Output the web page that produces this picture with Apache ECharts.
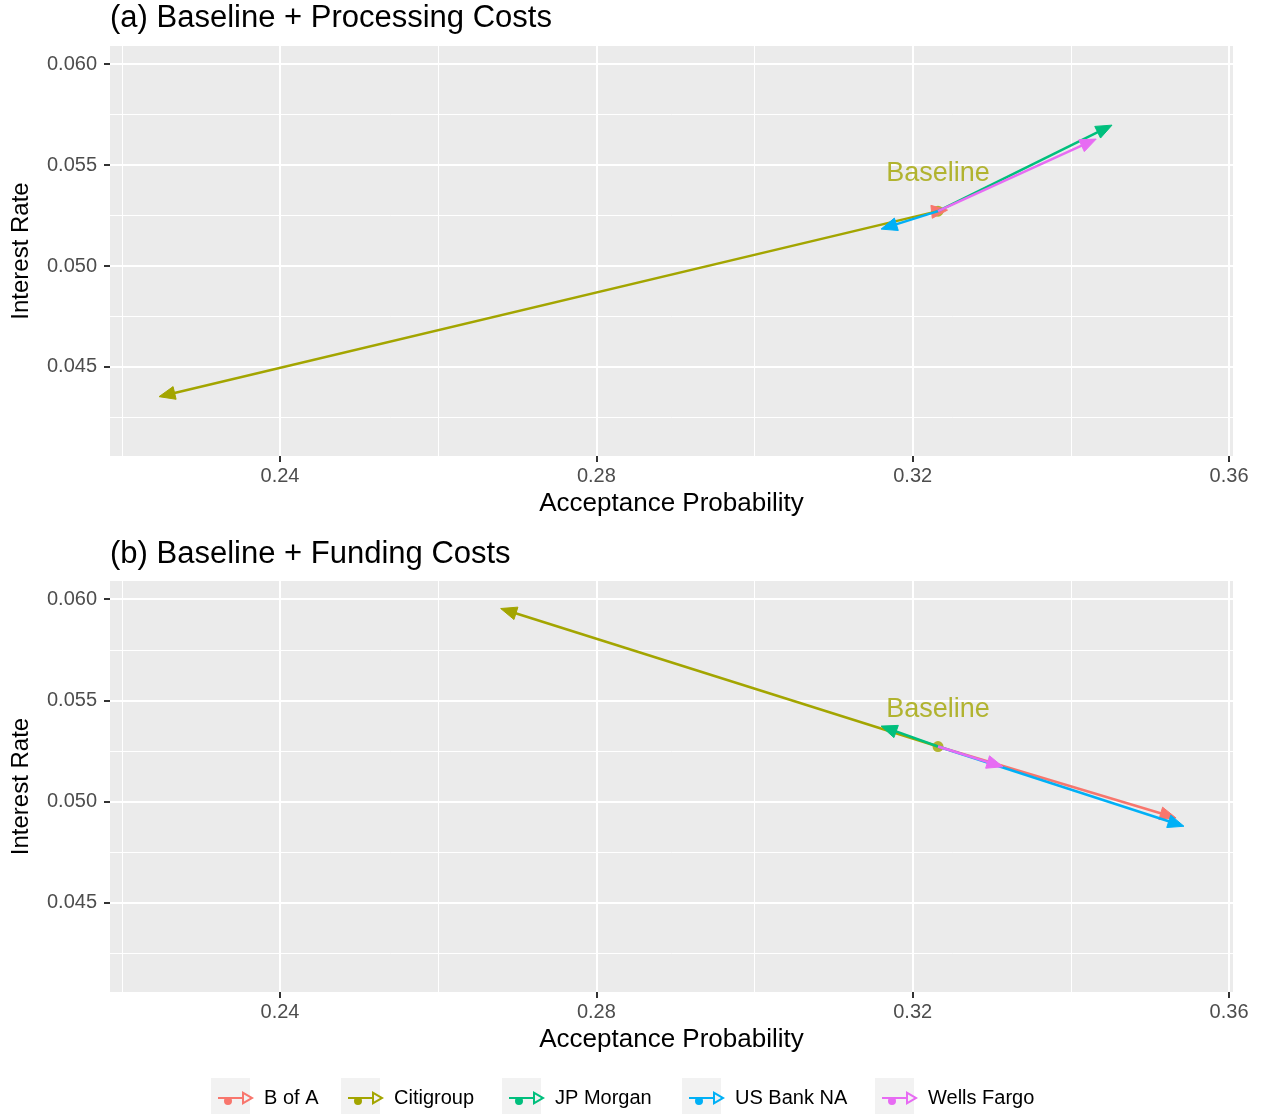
<!DOCTYPE html>
<html>
<head>
<meta charset="utf-8">
<script src="https://cdn.jsdelivr.net/npm/echarts@6/dist/echarts.min.js"></script>
<style>html,body{margin:0;padding:0;background:#fff;}#c{width:1262px;height:1114px;}</style>
</head>
<body>
<div id="c"></div>
<script>
// ---- data ----
const firms = ['B of A', 'Citigroup', 'JP Morgan', 'US Bank NA', 'Wells Fargo'];
const colors = ['#F8766D', '#A3A500', '#00BF7D', '#00B0F6', '#E76BF3'];
const baselineX = 0.3232;
const baselineY = 0.05272;
const baselineLabelY = 0.05457;
// (a) processing costs: arrow end points
const procX = [0.3244, 0.2247, 0.3452, 0.3160, 0.3432];
const procY = [0.05277, 0.04353, 0.05698, 0.05183, 0.05629];
// (b) funding costs: arrow end points
const fundX = [0.3533, 0.2679, 0.3160, 0.3543, 0.3314];
const fundY = [0.04919, 0.05954, 0.05373, 0.04878, 0.05172];
// ticks
const xTicks = [0.24, 0.28, 0.32, 0.36];
const xMinor = [0.22, 0.26, 0.30, 0.34];
const yTicks = [0.045, 0.050, 0.055, 0.060];
const yMinor = [0.0425, 0.0475, 0.0525, 0.0575];
const titles = ['(a) Baseline + Processing Costs', '(b) Baseline + Funding Costs'];

const FONT = 'Liberation Sans';
const X_MIN = 0.2185, X_MAX = 0.3605, Y_MIN = 0.04059, Y_MAX = 0.0609;

const grids = [
  {left: 110, top: 46, width: 1123, height: 410},
  {left: 110, top: 581, width: 1123, height: 411}
];

function mainX(g) {
  return {
    type: 'value', gridIndex: g, min: X_MIN, max: X_MAX,
    name: 'Acceptance Probability', nameLocation: 'middle', nameGap: 35,
    nameTextStyle: {fontSize: 26, color: '#000', fontFamily: FONT},
    axisLine: {show: false},
    axisTick: {show: true, length: 6, lineStyle: {color: '#333', width: 2}, customValues: xTicks},
    axisLabel: {customValues: xTicks, formatter: v => v.toFixed(2), color: '#4D4D4D', fontSize: 20, margin: 10, fontFamily: FONT},
    splitLine: {show: true, lineStyle: {color: '#fff', width: 2}}
  };
}
function minorX(g) {
  return {
    type: 'value', gridIndex: g, min: X_MIN, max: X_MAX, position: 'bottom',
    axisLine: {show: false}, axisLabel: {show: false},
    axisTick: {show: false, customValues: xMinor},
    splitLine: {show: true, lineStyle: {color: '#fff', width: 1}}
  };
}
function mainY(g) {
  return {
    type: 'value', gridIndex: g, min: Y_MIN, max: Y_MAX,
    name: 'Interest Rate', nameLocation: 'middle', nameGap: 77,
    nameTextStyle: {fontSize: 24, color: '#000', fontFamily: FONT},
    axisLine: {show: false},
    axisTick: {show: true, length: 6, lineStyle: {color: '#333', width: 2}, customValues: yTicks},
    axisLabel: {customValues: yTicks, formatter: v => v.toFixed(3), color: '#4D4D4D', fontSize: 20, margin: 13, fontFamily: FONT},
    splitLine: {show: true, lineStyle: {color: '#fff', width: 2}}
  };
}
function minorY(g) {
  return {
    type: 'value', gridIndex: g, min: Y_MIN, max: Y_MAX, position: 'left',
    axisLine: {show: false}, axisLabel: {show: false},
    axisTick: {show: false, customValues: yMinor},
    splitLine: {show: true, lineStyle: {color: '#fff', width: 1}}
  };
}

// arrow drawn through the axes' coordinate conversion
const HEAD_LEN = 16, HEAD_HALF = 6.5;
function makeArrowRender(color) {
  return function (params, api) {
    const p0 = api.coord([api.value(0), api.value(1)]);
    const p1 = api.coord([api.value(2), api.value(3)]);
    const dx = p1[0] - p0[0], dy = p1[1] - p0[1];
    const len = Math.sqrt(dx * dx + dy * dy) || 1;
    const ux = dx / len, uy = dy / len;
    const nx = -uy, ny = ux;
    const bx = p1[0] - ux * HEAD_LEN, by = p1[1] - uy * HEAD_LEN;
    return {
      type: 'group',
      children: [
        {type: 'line', shape: {x1: p0[0], y1: p0[1], x2: p1[0] - ux * 4, y2: p1[1] - uy * 4},
         style: {stroke: color, lineWidth: 2.5}},
        {type: 'polygon', shape: {points: [[p1[0], p1[1]], [bx + nx * HEAD_HALF, by + ny * HEAD_HALF], [bx - nx * HEAD_HALF, by - ny * HEAD_HALF]]},
         style: {fill: color, stroke: color, lineWidth: 1}}
      ]
    };
  };
}

const series = [];
[[procX, procY], [fundX, fundY]].forEach(([xs, ys], g) => {
  series.push({
    type: 'scatter', name: 'baseline', xAxisIndex: g * 2, yAxisIndex: g * 2,
    data: [[baselineX, baselineY]], symbolSize: 11, itemStyle: {color: colors[1]},
    z: 3, silent: true
  });
  firms.forEach((f, i) => {
    series.push({
      type: 'custom', name: f, xAxisIndex: g * 2, yAxisIndex: g * 2,
      data: [[baselineX, baselineY, xs[i], ys[i]]],
      encode: {x: [0, 2], y: [1, 3]},
      renderItem: makeArrowRender(colors[i]),
      itemStyle: {color: colors[i]},
      z: 4 + i, silent: true
    });
  });
  series.push({
    type: 'scatter', name: 'label', xAxisIndex: g * 2, yAxisIndex: g * 2,
    data: [[baselineX, baselineLabelY]], symbolSize: 1, itemStyle: {color: 'rgba(0,0,0,0)'},
    label: {show: true, position: 'inside', formatter: 'Baseline', color: colors[1], fontSize: 27, fontFamily: FONT},
    z: 10, silent: true
  });
});

const iconPath = 'path://M2 9L28 9L28 11L2 11Z M26 3L38 10L26 17Z M28 6.6L28 13.4L34 10Z M16 13A4 4 0 1 1 8 13A4 4 0 1 1 16 13Z';
const legendLeft = [213, 343, 504, 684, 877];
const legends = firms.map((f, i) => ({
  left: legendLeft[i], top: 1083, orient: 'horizontal', itemWidth: 36, itemHeight: 14, itemGap: 0,
  selectedMode: false,
  data: [{name: f, icon: iconPath, itemStyle: {color: colors[i]}}],
  textStyle: {fontSize: 20, color: '#000', fontFamily: FONT, padding: [0, 0, 0, 5]}
}));
const legendBoxes = legendLeft.map(l => ({
  type: 'rect', left: l - 2, top: 1078, z: -1,
  shape: {width: 39, height: 36}, style: {fill: '#F2F2F2'}
}));

const option = {
  backgroundColor: '#fff',
  animation: false,
  textStyle: {fontFamily: FONT},
  title: titles.map((t, i) => ({
    text: t, left: 106, top: i === 0 ? 1 : 537, padding: [2, 4],
    textStyle: {fontSize: 31, fontWeight: 'normal', color: '#000', fontFamily: FONT}
  })),
  grid: grids.map(g => Object.assign({show: true, backgroundColor: '#EBEBEB', borderWidth: 0, containLabel: false}, g)),
  xAxis: [mainX(0), minorX(0), mainX(1), minorX(1)],
  yAxis: [mainY(0), minorY(0), mainY(1), minorY(1)],
  legend: legends,
  graphic: legendBoxes,
  series: series
};

const chart = echarts.init(document.getElementById('c'), null, {renderer: 'canvas'});
chart.setOption(option);
</script>
</body>
</html>
